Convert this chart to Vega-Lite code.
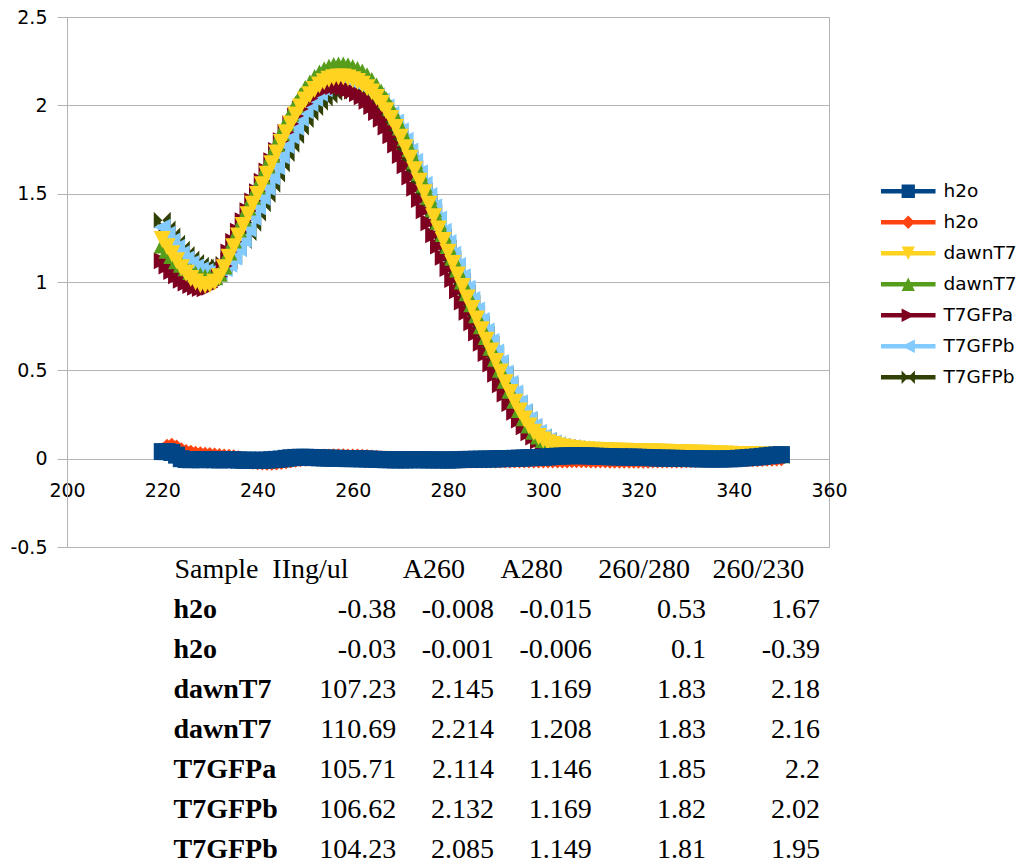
{
"$schema": "https://vega.github.io/schema/vega-lite/v6.json",
"background": "white",
"padding": {"left": 9, "top": 7, "right": 5, "bottom": 0},
"bounds": "flush",
"spacing": 3,
"config": {"view": {"stroke": null}, "font": "DejaVu Sans"},
"datasets": {
"tbl": [
{"r":0,"c":"A","k":"h","t":"Sample"},{"r":0,"c":"B","k":"h","t":"IIng/ul"},{"r":0,"c":"C","k":"h","t":"A260"},{"r":0,"c":"D","k":"h","t":"A280"},{"r":0,"c":"E","k":"h","t":"260/280"},{"r":0,"c":"F","k":"h","t":"260/230"},
{"r":1,"c":"A","k":"l","t":"h2o"},{"r":1,"c":"B","k":"n","t":"-0.38"},{"r":1,"c":"C","k":"n","t":"-0.008"},{"r":1,"c":"D","k":"n","t":"-0.015"},{"r":1,"c":"E","k":"n","t":"0.53"},{"r":1,"c":"F","k":"n","t":"1.67"},
{"r":2,"c":"A","k":"l","t":"h2o"},{"r":2,"c":"B","k":"n","t":"-0.03"},{"r":2,"c":"C","k":"n","t":"-0.001"},{"r":2,"c":"D","k":"n","t":"-0.006"},{"r":2,"c":"E","k":"n","t":"0.1"},{"r":2,"c":"F","k":"n","t":"-0.39"},
{"r":3,"c":"A","k":"l","t":"dawnT7"},{"r":3,"c":"B","k":"n","t":"107.23"},{"r":3,"c":"C","k":"n","t":"2.145"},{"r":3,"c":"D","k":"n","t":"1.169"},{"r":3,"c":"E","k":"n","t":"1.83"},{"r":3,"c":"F","k":"n","t":"2.18"},
{"r":4,"c":"A","k":"l","t":"dawnT7"},{"r":4,"c":"B","k":"n","t":"110.69"},{"r":4,"c":"C","k":"n","t":"2.214"},{"r":4,"c":"D","k":"n","t":"1.208"},{"r":4,"c":"E","k":"n","t":"1.83"},{"r":4,"c":"F","k":"n","t":"2.16"},
{"r":5,"c":"A","k":"l","t":"T7GFPa"},{"r":5,"c":"B","k":"n","t":"105.71"},{"r":5,"c":"C","k":"n","t":"2.114"},{"r":5,"c":"D","k":"n","t":"1.146"},{"r":5,"c":"E","k":"n","t":"1.85"},{"r":5,"c":"F","k":"n","t":"2.2"},
{"r":6,"c":"A","k":"l","t":"T7GFPb"},{"r":6,"c":"B","k":"n","t":"106.62"},{"r":6,"c":"C","k":"n","t":"2.132"},{"r":6,"c":"D","k":"n","t":"1.169"},{"r":6,"c":"E","k":"n","t":"1.82"},{"r":6,"c":"F","k":"n","t":"2.02"},
{"r":7,"c":"A","k":"l","t":"T7GFPb"},{"r":7,"c":"B","k":"n","t":"104.23"},{"r":7,"c":"C","k":"n","t":"2.085"},{"r":7,"c":"D","k":"n","t":"1.149"},{"r":7,"c":"E","k":"n","t":"1.81"},{"r":7,"c":"F","k":"n","t":"1.95"}
],
"spec": [
{"s":"a","x":220,"y":0.04},{"s":"a","x":221,"y":0.04},{"s":"a","x":222,"y":0.035},{"s":"a","x":223,"y":0.02},{"s":"a","x":224,"y":0},{"s":"a","x":225,"y":-0.005},{"s":"a","x":226,"y":-0.006},{"s":"a","x":227,"y":-0.005},{"s":"a","x":228,"y":-0.006},{"s":"a","x":229,"y":-0.005},
{"s":"a","x":230,"y":-0.005},{"s":"a","x":231,"y":-0.006},{"s":"a","x":232,"y":-0.007},{"s":"a","x":233,"y":-0.006},{"s":"a","x":234,"y":-0.005},{"s":"a","x":235,"y":-0.006},{"s":"a","x":236,"y":-0.008},{"s":"a","x":237,"y":-0.009},{"s":"a","x":238,"y":-0.008},{"s":"a","x":239,"y":-0.009},
{"s":"a","x":240,"y":-0.01},{"s":"a","x":241,"y":-0.009},{"s":"a","x":242,"y":-0.008},{"s":"a","x":243,"y":-0.006},{"s":"a","x":244,"y":-0.004},{"s":"a","x":245,"y":-0.002},{"s":"a","x":246,"y":0.002},{"s":"a","x":247,"y":0.005},{"s":"a","x":248,"y":0.007},{"s":"a","x":249,"y":0.008},
{"s":"a","x":250,"y":0.008},{"s":"a","x":251,"y":0.007},{"s":"a","x":252,"y":0.006},{"s":"a","x":253,"y":0.005},{"s":"a","x":254,"y":0.004},{"s":"a","x":255,"y":0.003},{"s":"a","x":256,"y":0.002},{"s":"a","x":257,"y":0.002},{"s":"a","x":258,"y":0.001},{"s":"a","x":259,"y":0},
{"s":"a","x":260,"y":0},{"s":"a","x":261,"y":0},{"s":"a","x":262,"y":-0.001},{"s":"a","x":263,"y":-0.002},{"s":"a","x":264,"y":-0.003},{"s":"a","x":265,"y":-0.004},{"s":"a","x":266,"y":-0.005},{"s":"a","x":267,"y":-0.006},{"s":"a","x":268,"y":-0.006},{"s":"a","x":269,"y":-0.007},
{"s":"a","x":270,"y":-0.007},{"s":"a","x":271,"y":-0.007},{"s":"a","x":272,"y":-0.006},{"s":"a","x":273,"y":-0.006},{"s":"a","x":274,"y":-0.006},{"s":"a","x":275,"y":-0.006},{"s":"a","x":276,"y":-0.007},{"s":"a","x":277,"y":-0.007},{"s":"a","x":278,"y":-0.007},{"s":"a","x":279,"y":-0.007},
{"s":"a","x":280,"y":-0.008},{"s":"a","x":281,"y":-0.007},{"s":"a","x":282,"y":-0.006},{"s":"a","x":283,"y":-0.005},{"s":"a","x":284,"y":-0.004},{"s":"a","x":285,"y":-0.004},{"s":"a","x":286,"y":-0.003},{"s":"a","x":287,"y":-0.003},{"s":"a","x":288,"y":-0.002},{"s":"a","x":289,"y":-0.002},
{"s":"a","x":290,"y":-0.001},{"s":"a","x":291,"y":0},{"s":"a","x":292,"y":0},{"s":"a","x":293,"y":0.001},{"s":"a","x":294,"y":0.002},{"s":"a","x":295,"y":0.003},{"s":"a","x":296,"y":0.004},{"s":"a","x":297,"y":0.005},{"s":"a","x":298,"y":0.006},{"s":"a","x":299,"y":0.007},
{"s":"a","x":300,"y":0.008},{"s":"a","x":301,"y":0.01},{"s":"a","x":302,"y":0.012},{"s":"a","x":303,"y":0.014},{"s":"a","x":304,"y":0.015},{"s":"a","x":305,"y":0.016},{"s":"a","x":306,"y":0.017},{"s":"a","x":307,"y":0.017},{"s":"a","x":308,"y":0.017},{"s":"a","x":309,"y":0.016},
{"s":"a","x":310,"y":0.015},{"s":"a","x":311,"y":0.014},{"s":"a","x":312,"y":0.013},{"s":"a","x":313,"y":0.012},{"s":"a","x":314,"y":0.011},{"s":"a","x":315,"y":0.01},{"s":"a","x":316,"y":0.01},{"s":"a","x":317,"y":0.009},{"s":"a","x":318,"y":0.009},{"s":"a","x":319,"y":0.009},
{"s":"a","x":320,"y":0.008},{"s":"a","x":321,"y":0.007},{"s":"a","x":322,"y":0.006},{"s":"a","x":323,"y":0.005},{"s":"a","x":324,"y":0.004},{"s":"a","x":325,"y":0.003},{"s":"a","x":326,"y":0.003},{"s":"a","x":327,"y":0.002},{"s":"a","x":328,"y":0.002},{"s":"a","x":329,"y":0.001},
{"s":"a","x":330,"y":0.001},{"s":"a","x":331,"y":0},{"s":"a","x":332,"y":0},{"s":"a","x":333,"y":-0.001},{"s":"a","x":334,"y":-0.001},{"s":"a","x":335,"y":-0.002},{"s":"a","x":336,"y":-0.002},{"s":"a","x":337,"y":-0.002},{"s":"a","x":338,"y":-0.001},{"s":"a","x":339,"y":-0.001},
{"s":"a","x":340,"y":0},{"s":"a","x":341,"y":0.002},{"s":"a","x":342,"y":0.004},{"s":"a","x":343,"y":0.006},{"s":"a","x":344,"y":0.008},{"s":"a","x":345,"y":0.01},{"s":"a","x":346,"y":0.013},{"s":"a","x":347,"y":0.016},{"s":"a","x":348,"y":0.019},{"s":"a","x":349,"y":0.021},{"s":"a","x":350,"y":0.023},
{"s":"b","x":220,"y":0.045},{"s":"b","x":221,"y":0.065},{"s":"b","x":222,"y":0.07},{"s":"b","x":223,"y":0.06},{"s":"b","x":224,"y":0.045},{"s":"b","x":225,"y":0.035},{"s":"b","x":226,"y":0.03},{"s":"b","x":227,"y":0.025},{"s":"b","x":228,"y":0.022},{"s":"b","x":229,"y":0.02},
{"s":"b","x":230,"y":0.018},{"s":"b","x":231,"y":0.015},{"s":"b","x":232,"y":0.012},{"s":"b","x":233,"y":0.01},{"s":"b","x":234,"y":0.008},{"s":"b","x":235,"y":0.005},{"s":"b","x":236,"y":0},{"s":"b","x":237,"y":-0.005},{"s":"b","x":238,"y":-0.01},{"s":"b","x":239,"y":-0.014},
{"s":"b","x":240,"y":-0.017},{"s":"b","x":241,"y":-0.019},{"s":"b","x":242,"y":-0.02},{"s":"b","x":243,"y":-0.02},{"s":"b","x":244,"y":-0.019},{"s":"b","x":245,"y":-0.016},{"s":"b","x":246,"y":-0.012},{"s":"b","x":247,"y":-0.008},{"s":"b","x":248,"y":-0.004},{"s":"b","x":249,"y":0},
{"s":"b","x":250,"y":0.003},{"s":"b","x":251,"y":0.005},{"s":"b","x":252,"y":0.007},{"s":"b","x":253,"y":0.008},{"s":"b","x":254,"y":0.009},{"s":"b","x":255,"y":0.01},{"s":"b","x":256,"y":0.011},{"s":"b","x":257,"y":0.011},{"s":"b","x":258,"y":0.011},{"s":"b","x":259,"y":0.01},
{"s":"b","x":260,"y":0.01},{"s":"b","x":261,"y":0.009},{"s":"b","x":262,"y":0.008},{"s":"b","x":263,"y":0.006},{"s":"b","x":264,"y":0.004},{"s":"b","x":265,"y":0.002},{"s":"b","x":266,"y":0},{"s":"b","x":267,"y":-0.002},{"s":"b","x":268,"y":-0.003},{"s":"b","x":269,"y":-0.004},
{"s":"b","x":270,"y":-0.004},{"s":"b","x":271,"y":-0.005},{"s":"b","x":272,"y":-0.005},{"s":"b","x":273,"y":-0.005},{"s":"b","x":274,"y":-0.006},{"s":"b","x":275,"y":-0.006},{"s":"b","x":276,"y":-0.006},{"s":"b","x":277,"y":-0.006},{"s":"b","x":278,"y":-0.006},{"s":"b","x":279,"y":-0.006},
{"s":"b","x":280,"y":-0.006},{"s":"b","x":281,"y":-0.006},{"s":"b","x":282,"y":-0.006},{"s":"b","x":283,"y":-0.007},{"s":"b","x":284,"y":-0.007},{"s":"b","x":285,"y":-0.007},{"s":"b","x":286,"y":-0.007},{"s":"b","x":287,"y":-0.008},{"s":"b","x":288,"y":-0.008},{"s":"b","x":289,"y":-0.008},
{"s":"b","x":290,"y":-0.008},{"s":"b","x":291,"y":-0.008},{"s":"b","x":292,"y":-0.008},{"s":"b","x":293,"y":-0.008},{"s":"b","x":294,"y":-0.008},{"s":"b","x":295,"y":-0.008},{"s":"b","x":296,"y":-0.008},{"s":"b","x":297,"y":-0.008},{"s":"b","x":298,"y":-0.008},{"s":"b","x":299,"y":-0.008},
{"s":"b","x":300,"y":-0.008},{"s":"b","x":301,"y":-0.008},{"s":"b","x":302,"y":-0.008},{"s":"b","x":303,"y":-0.008},{"s":"b","x":304,"y":-0.007},{"s":"b","x":305,"y":-0.007},{"s":"b","x":306,"y":-0.006},{"s":"b","x":307,"y":-0.006},{"s":"b","x":308,"y":-0.006},{"s":"b","x":309,"y":-0.006},
{"s":"b","x":310,"y":-0.007},{"s":"b","x":311,"y":-0.007},{"s":"b","x":312,"y":-0.008},{"s":"b","x":313,"y":-0.008},{"s":"b","x":314,"y":-0.009},{"s":"b","x":315,"y":-0.009},{"s":"b","x":316,"y":-0.009},{"s":"b","x":317,"y":-0.009},{"s":"b","x":318,"y":-0.009},{"s":"b","x":319,"y":-0.009},
{"s":"b","x":320,"y":-0.009},{"s":"b","x":321,"y":-0.009},{"s":"b","x":322,"y":-0.009},{"s":"b","x":323,"y":-0.008},{"s":"b","x":324,"y":-0.008},{"s":"b","x":325,"y":-0.008},{"s":"b","x":326,"y":-0.008},{"s":"b","x":327,"y":-0.007},{"s":"b","x":328,"y":-0.007},{"s":"b","x":329,"y":-0.007},
{"s":"b","x":330,"y":-0.006},{"s":"b","x":331,"y":-0.006},{"s":"b","x":332,"y":-0.005},{"s":"b","x":333,"y":-0.005},{"s":"b","x":334,"y":-0.004},{"s":"b","x":335,"y":-0.004},{"s":"b","x":336,"y":-0.004},{"s":"b","x":337,"y":-0.003},{"s":"b","x":338,"y":-0.003},{"s":"b","x":339,"y":-0.003},
{"s":"b","x":340,"y":-0.002},{"s":"b","x":341,"y":-0.002},{"s":"b","x":342,"y":-0.001},{"s":"b","x":343,"y":-0.001},{"s":"b","x":344,"y":0},{"s":"b","x":345,"y":0},{"s":"b","x":346,"y":0.001},{"s":"b","x":347,"y":0.002},{"s":"b","x":348,"y":0.003},{"s":"b","x":349,"y":0.004},{"s":"b","x":350,"y":0.005},
{"s":"c","x":220,"y":1.24},{"s":"c","x":221,"y":1.2},{"s":"c","x":222,"y":1.16},{"s":"c","x":223,"y":1.12},{"s":"c","x":224,"y":1.08},{"s":"c","x":225,"y":1.05},{"s":"c","x":226,"y":1.02},{"s":"c","x":227,"y":1.0},{"s":"c","x":228,"y":0.985},{"s":"c","x":229,"y":0.98},
{"s":"c","x":230,"y":0.984},{"s":"c","x":231,"y":0.998},{"s":"c","x":232,"y":1.03},{"s":"c","x":233,"y":1.08},{"s":"c","x":234,"y":1.14},{"s":"c","x":235,"y":1.2},{"s":"c","x":236,"y":1.26},{"s":"c","x":237,"y":1.32},{"s":"c","x":238,"y":1.38},{"s":"c","x":239,"y":1.44},
{"s":"c","x":240,"y":1.495},{"s":"c","x":241,"y":1.55},{"s":"c","x":242,"y":1.61},{"s":"c","x":243,"y":1.67},{"s":"c","x":244,"y":1.73},{"s":"c","x":245,"y":1.79},{"s":"c","x":246,"y":1.845},{"s":"c","x":247,"y":1.895},{"s":"c","x":248,"y":1.945},{"s":"c","x":249,"y":1.99},
{"s":"c","x":250,"y":2.03},{"s":"c","x":251,"y":2.06},{"s":"c","x":252,"y":2.09},{"s":"c","x":253,"y":2.115},{"s":"c","x":254,"y":2.133},{"s":"c","x":255,"y":2.147},{"s":"c","x":256,"y":2.156},{"s":"c","x":257,"y":2.16},{"s":"c","x":258,"y":2.16},{"s":"c","x":259,"y":2.155},
{"s":"c","x":260,"y":2.145},{"s":"c","x":261,"y":2.135},{"s":"c","x":262,"y":2.12},{"s":"c","x":263,"y":2.1},{"s":"c","x":264,"y":2.075},{"s":"c","x":265,"y":2.045},{"s":"c","x":266,"y":2.01},{"s":"c","x":267,"y":1.97},{"s":"c","x":268,"y":1.925},{"s":"c","x":269,"y":1.875},
{"s":"c","x":270,"y":1.82},{"s":"c","x":271,"y":1.76},{"s":"c","x":272,"y":1.7},{"s":"c","x":273,"y":1.635},{"s":"c","x":274,"y":1.57},{"s":"c","x":275,"y":1.505},{"s":"c","x":276,"y":1.44},{"s":"c","x":277,"y":1.37},{"s":"c","x":278,"y":1.3},{"s":"c","x":279,"y":1.235},
{"s":"c","x":280,"y":1.169},{"s":"c","x":281,"y":1.105},{"s":"c","x":282,"y":1.04},{"s":"c","x":283,"y":0.975},{"s":"c","x":284,"y":0.91},{"s":"c","x":285,"y":0.85},{"s":"c","x":286,"y":0.79},{"s":"c","x":287,"y":0.73},{"s":"c","x":288,"y":0.67},{"s":"c","x":289,"y":0.61},
{"s":"c","x":290,"y":0.55},{"s":"c","x":291,"y":0.49},{"s":"c","x":292,"y":0.43},{"s":"c","x":293,"y":0.375},{"s":"c","x":294,"y":0.32},{"s":"c","x":295,"y":0.27},{"s":"c","x":296,"y":0.225},{"s":"c","x":297,"y":0.185},{"s":"c","x":298,"y":0.15},{"s":"c","x":299,"y":0.125},
{"s":"c","x":300,"y":0.105},{"s":"c","x":301,"y":0.09},{"s":"c","x":302,"y":0.08},{"s":"c","x":303,"y":0.072},{"s":"c","x":304,"y":0.066},{"s":"c","x":305,"y":0.062},{"s":"c","x":306,"y":0.058},{"s":"c","x":307,"y":0.055},{"s":"c","x":308,"y":0.052},{"s":"c","x":309,"y":0.05},
{"s":"c","x":310,"y":0.048},{"s":"c","x":311,"y":0.047},{"s":"c","x":312,"y":0.046},{"s":"c","x":313,"y":0.045},{"s":"c","x":314,"y":0.044},{"s":"c","x":315,"y":0.043},{"s":"c","x":316,"y":0.042},{"s":"c","x":317,"y":0.042},{"s":"c","x":318,"y":0.041},{"s":"c","x":319,"y":0.041},
{"s":"c","x":320,"y":0.04},{"s":"c","x":321,"y":0.04},{"s":"c","x":322,"y":0.039},{"s":"c","x":323,"y":0.039},{"s":"c","x":324,"y":0.038},{"s":"c","x":325,"y":0.037},{"s":"c","x":326,"y":0.036},{"s":"c","x":327,"y":0.035},{"s":"c","x":328,"y":0.035},{"s":"c","x":329,"y":0.034},
{"s":"c","x":330,"y":0.033},{"s":"c","x":331,"y":0.032},{"s":"c","x":332,"y":0.031},{"s":"c","x":333,"y":0.03},{"s":"c","x":334,"y":0.03},{"s":"c","x":335,"y":0.029},{"s":"c","x":336,"y":0.028},{"s":"c","x":337,"y":0.027},{"s":"c","x":338,"y":0.026},{"s":"c","x":339,"y":0.025},
{"s":"c","x":340,"y":0.024},{"s":"c","x":341,"y":0.023},{"s":"c","x":342,"y":0.023},{"s":"c","x":343,"y":0.022},{"s":"c","x":344,"y":0.022},{"s":"c","x":345,"y":0.021},{"s":"c","x":346,"y":0.021},{"s":"c","x":347,"y":0.02},{"s":"c","x":348,"y":0.02},{"s":"c","x":349,"y":0.02},{"s":"c","x":350,"y":0.02},
{"s":"d","x":220,"y":1.21},{"s":"d","x":221,"y":1.18},{"s":"d","x":222,"y":1.15},{"s":"d","x":223,"y":1.12},{"s":"d","x":224,"y":1.1},{"s":"d","x":225,"y":1.08},{"s":"d","x":226,"y":1.06},{"s":"d","x":227,"y":1.045},{"s":"d","x":228,"y":1.035},{"s":"d","x":229,"y":1.028},
{"s":"d","x":230,"y":1.025},{"s":"d","x":231,"y":1.03},{"s":"d","x":232,"y":1.05},{"s":"d","x":233,"y":1.09},{"s":"d","x":234,"y":1.17},{"s":"d","x":235,"y":1.238},{"s":"d","x":236,"y":1.3},{"s":"d","x":237,"y":1.362},{"s":"d","x":238,"y":1.424},{"s":"d","x":239,"y":1.486},
{"s":"d","x":240,"y":1.543},{"s":"d","x":241,"y":1.6},{"s":"d","x":242,"y":1.662},{"s":"d","x":243,"y":1.723},{"s":"d","x":244,"y":1.785},{"s":"d","x":245,"y":1.847},{"s":"d","x":246,"y":1.904},{"s":"d","x":247,"y":1.956},{"s":"d","x":248,"y":2.007},{"s":"d","x":249,"y":2.054},
{"s":"d","x":250,"y":2.095},{"s":"d","x":251,"y":2.126},{"s":"d","x":252,"y":2.157},{"s":"d","x":253,"y":2.183},{"s":"d","x":254,"y":2.201},{"s":"d","x":255,"y":2.216},{"s":"d","x":256,"y":2.225},{"s":"d","x":257,"y":2.229},{"s":"d","x":258,"y":2.229},{"s":"d","x":259,"y":2.224},
{"s":"d","x":260,"y":2.214},{"s":"d","x":261,"y":2.203},{"s":"d","x":262,"y":2.188},{"s":"d","x":263,"y":2.167},{"s":"d","x":264,"y":2.141},{"s":"d","x":265,"y":2.11},{"s":"d","x":266,"y":2.074},{"s":"d","x":267,"y":2.033},{"s":"d","x":268,"y":1.987},{"s":"d","x":269,"y":1.935},
{"s":"d","x":270,"y":1.878},{"s":"d","x":271,"y":1.816},{"s":"d","x":272,"y":1.754},{"s":"d","x":273,"y":1.687},{"s":"d","x":274,"y":1.62},{"s":"d","x":275,"y":1.553},{"s":"d","x":276,"y":1.486},{"s":"d","x":277,"y":1.414},{"s":"d","x":278,"y":1.342},{"s":"d","x":279,"y":1.275},
{"s":"d","x":280,"y":1.206},{"s":"d","x":281,"y":1.14},{"s":"d","x":282,"y":1.073},{"s":"d","x":283,"y":1.006},{"s":"d","x":284,"y":0.939},{"s":"d","x":285,"y":0.877},{"s":"d","x":286,"y":0.815},{"s":"d","x":287,"y":0.753},{"s":"d","x":288,"y":0.691},{"s":"d","x":289,"y":0.63},
{"s":"d","x":290,"y":0.568},{"s":"d","x":291,"y":0.506},{"s":"d","x":292,"y":0.444},{"s":"d","x":293,"y":0.387},{"s":"d","x":294,"y":0.33},{"s":"d","x":295,"y":0.279},{"s":"d","x":296,"y":0.232},{"s":"d","x":297,"y":0.191},{"s":"d","x":298,"y":0.155},{"s":"d","x":299,"y":0.129},
{"s":"d","x":300,"y":0.108},{"s":"d","x":301,"y":0.093},{"s":"d","x":302,"y":0.083},{"s":"d","x":303,"y":0.074},{"s":"d","x":304,"y":0.068},{"s":"d","x":305,"y":0.064},{"s":"d","x":306,"y":0.06},{"s":"d","x":307,"y":0.057},{"s":"d","x":308,"y":0.054},{"s":"d","x":309,"y":0.052},
{"s":"d","x":310,"y":0.05},{"s":"d","x":311,"y":0.049},{"s":"d","x":312,"y":0.048},{"s":"d","x":313,"y":0.047},{"s":"d","x":314,"y":0.046},{"s":"d","x":315,"y":0.045},{"s":"d","x":316,"y":0.044},{"s":"d","x":317,"y":0.044},{"s":"d","x":318,"y":0.043},{"s":"d","x":319,"y":0.043},
{"s":"d","x":320,"y":0.042},{"s":"d","x":321,"y":0.042},{"s":"d","x":322,"y":0.041},{"s":"d","x":323,"y":0.041},{"s":"d","x":324,"y":0.04},{"s":"d","x":325,"y":0.039},{"s":"d","x":326,"y":0.038},{"s":"d","x":327,"y":0.037},{"s":"d","x":328,"y":0.037},{"s":"d","x":329,"y":0.036},
{"s":"d","x":330,"y":0.035},{"s":"d","x":331,"y":0.034},{"s":"d","x":332,"y":0.033},{"s":"d","x":333,"y":0.032},{"s":"d","x":334,"y":0.032},{"s":"d","x":335,"y":0.031},{"s":"d","x":336,"y":0.03},{"s":"d","x":337,"y":0.029},{"s":"d","x":338,"y":0.028},{"s":"d","x":339,"y":0.027},
{"s":"d","x":340,"y":0.026},{"s":"d","x":341,"y":0.025},{"s":"d","x":342,"y":0.025},{"s":"d","x":343,"y":0.024},{"s":"d","x":344,"y":0.024},{"s":"d","x":345,"y":0.023},{"s":"d","x":346,"y":0.023},{"s":"d","x":347,"y":0.022},{"s":"d","x":348,"y":0.022},{"s":"d","x":349,"y":0.022},{"s":"d","x":350,"y":0.022},
{"s":"e","x":220,"y":1.12},{"s":"e","x":221,"y":1.09},{"s":"e","x":222,"y":1.06},{"s":"e","x":223,"y":1.035},{"s":"e","x":224,"y":1.01},{"s":"e","x":225,"y":0.995},{"s":"e","x":226,"y":0.98},{"s":"e","x":227,"y":0.97},{"s":"e","x":228,"y":0.963},{"s":"e","x":229,"y":0.962},
{"s":"e","x":230,"y":0.97},{"s":"e","x":231,"y":0.99},{"s":"e","x":232,"y":1.03},{"s":"e","x":233,"y":1.09},{"s":"e","x":234,"y":1.17},{"s":"e","x":235,"y":1.229},{"s":"e","x":236,"y":1.287},{"s":"e","x":237,"y":1.346},{"s":"e","x":238,"y":1.404},{"s":"e","x":239,"y":1.458},
{"s":"e","x":240,"y":1.511},{"s":"e","x":241,"y":1.57},{"s":"e","x":242,"y":1.628},{"s":"e","x":243,"y":1.687},{"s":"e","x":244,"y":1.745},{"s":"e","x":245,"y":1.799},{"s":"e","x":246,"y":1.848},{"s":"e","x":247,"y":1.896},{"s":"e","x":248,"y":1.94},{"s":"e","x":249,"y":1.979},
{"s":"e","x":250,"y":2.009},{"s":"e","x":251,"y":2.038},{"s":"e","x":252,"y":2.062},{"s":"e","x":253,"y":2.08},{"s":"e","x":254,"y":2.093},{"s":"e","x":255,"y":2.102},{"s":"e","x":256,"y":2.106},{"s":"e","x":257,"y":2.106},{"s":"e","x":258,"y":2.101},{"s":"e","x":259,"y":2.091},
{"s":"e","x":260,"y":2.082},{"s":"e","x":261,"y":2.067},{"s":"e","x":262,"y":2.048},{"s":"e","x":263,"y":2.023},{"s":"e","x":264,"y":1.994},{"s":"e","x":265,"y":1.96},{"s":"e","x":266,"y":1.921},{"s":"e","x":267,"y":1.877},{"s":"e","x":268,"y":1.828},{"s":"e","x":269,"y":1.775},
{"s":"e","x":270,"y":1.716},{"s":"e","x":271,"y":1.658},{"s":"e","x":272,"y":1.594},{"s":"e","x":273,"y":1.531},{"s":"e","x":274,"y":1.467},{"s":"e","x":275,"y":1.404},{"s":"e","x":276,"y":1.336},{"s":"e","x":277,"y":1.268},{"s":"e","x":278,"y":1.204},{"s":"e","x":279,"y":1.14},
{"s":"e","x":280,"y":1.077},{"s":"e","x":281,"y":1.014},{"s":"e","x":282,"y":0.951},{"s":"e","x":283,"y":0.887},{"s":"e","x":284,"y":0.829},{"s":"e","x":285,"y":0.77},{"s":"e","x":286,"y":0.712},{"s":"e","x":287,"y":0.653},{"s":"e","x":288,"y":0.595},{"s":"e","x":289,"y":0.536},
{"s":"e","x":290,"y":0.478},{"s":"e","x":291,"y":0.419},{"s":"e","x":292,"y":0.366},{"s":"e","x":293,"y":0.312},{"s":"e","x":294,"y":0.263},{"s":"e","x":295,"y":0.219},{"s":"e","x":296,"y":0.18},{"s":"e","x":297,"y":0.146},{"s":"e","x":298,"y":0.122},{"s":"e","x":299,"y":0.102},
{"s":"e","x":300,"y":0.088},{"s":"e","x":301,"y":0.078},{"s":"e","x":302,"y":0.07},{"s":"e","x":303,"y":0.064},{"s":"e","x":304,"y":0.06},{"s":"e","x":305,"y":0.057},{"s":"e","x":306,"y":0.054},{"s":"e","x":307,"y":0.051},{"s":"e","x":308,"y":0.049},{"s":"e","x":309,"y":0.047},
{"s":"e","x":310,"y":0.046},{"s":"e","x":311,"y":0.045},{"s":"e","x":312,"y":0.044},{"s":"e","x":313,"y":0.043},{"s":"e","x":314,"y":0.042},{"s":"e","x":315,"y":0.041},{"s":"e","x":316,"y":0.041},{"s":"e","x":317,"y":0.04},{"s":"e","x":318,"y":0.04},{"s":"e","x":319,"y":0.039},
{"s":"e","x":320,"y":0.039},{"s":"e","x":321,"y":0.038},{"s":"e","x":322,"y":0.038},{"s":"e","x":323,"y":0.037},{"s":"e","x":324,"y":0.036},{"s":"e","x":325,"y":0.035},{"s":"e","x":326,"y":0.034},{"s":"e","x":327,"y":0.034},{"s":"e","x":328,"y":0.033},{"s":"e","x":329,"y":0.032},
{"s":"e","x":330,"y":0.031},{"s":"e","x":331,"y":0.03},{"s":"e","x":332,"y":0.029},{"s":"e","x":333,"y":0.029},{"s":"e","x":334,"y":0.028},{"s":"e","x":335,"y":0.027},{"s":"e","x":336,"y":0.026},{"s":"e","x":337,"y":0.025},{"s":"e","x":338,"y":0.024},{"s":"e","x":339,"y":0.023},
{"s":"e","x":340,"y":0.022},{"s":"e","x":341,"y":0.022},{"s":"e","x":342,"y":0.021},{"s":"e","x":343,"y":0.021},{"s":"e","x":344,"y":0.02},{"s":"e","x":345,"y":0.02},{"s":"e","x":346,"y":0.019},{"s":"e","x":347,"y":0.019},{"s":"e","x":348,"y":0.019},{"s":"e","x":349,"y":0.019},{"s":"e","x":350,"y":0.019},
{"s":"f","x":220,"y":1.31},{"s":"f","x":221,"y":1.27},{"s":"f","x":222,"y":1.23},{"s":"f","x":223,"y":1.195},{"s":"f","x":224,"y":1.16},{"s":"f","x":225,"y":1.13},{"s":"f","x":226,"y":1.105},{"s":"f","x":227,"y":1.085},{"s":"f","x":228,"y":1.07},{"s":"f","x":229,"y":1.06},
{"s":"f","x":230,"y":1.055},{"s":"f","x":231,"y":1.055},{"s":"f","x":232,"y":1.06},{"s":"f","x":233,"y":1.075},{"s":"f","x":234,"y":1.1},{"s":"f","x":235,"y":1.14},{"s":"f","x":236,"y":1.19},{"s":"f","x":237,"y":1.24},{"s":"f","x":238,"y":1.3},{"s":"f","x":239,"y":1.366},
{"s":"f","x":240,"y":1.426},{"s":"f","x":241,"y":1.48},{"s":"f","x":242,"y":1.535},{"s":"f","x":243,"y":1.594},{"s":"f","x":244,"y":1.653},{"s":"f","x":245,"y":1.713},{"s":"f","x":246,"y":1.772},{"s":"f","x":247,"y":1.827},{"s":"f","x":248,"y":1.876},{"s":"f","x":249,"y":1.926},
{"s":"f","x":250,"y":1.97},{"s":"f","x":251,"y":2.01},{"s":"f","x":252,"y":2.039},{"s":"f","x":253,"y":2.069},{"s":"f","x":254,"y":2.094},{"s":"f","x":255,"y":2.112},{"s":"f","x":256,"y":2.126},{"s":"f","x":257,"y":2.134},{"s":"f","x":258,"y":2.138},{"s":"f","x":259,"y":2.138},
{"s":"f","x":260,"y":2.133},{"s":"f","x":261,"y":2.124},{"s":"f","x":262,"y":2.114},{"s":"f","x":263,"y":2.099},{"s":"f","x":264,"y":2.079},{"s":"f","x":265,"y":2.054},{"s":"f","x":266,"y":2.025},{"s":"f","x":267,"y":1.99},{"s":"f","x":268,"y":1.95},{"s":"f","x":269,"y":1.906},
{"s":"f","x":270,"y":1.856},{"s":"f","x":271,"y":1.802},{"s":"f","x":272,"y":1.742},{"s":"f","x":273,"y":1.683},{"s":"f","x":274,"y":1.619},{"s":"f","x":275,"y":1.554},{"s":"f","x":276,"y":1.49},{"s":"f","x":277,"y":1.426},{"s":"f","x":278,"y":1.356},{"s":"f","x":279,"y":1.287},
{"s":"f","x":280,"y":1.223},{"s":"f","x":281,"y":1.157},{"s":"f","x":282,"y":1.094},{"s":"f","x":283,"y":1.03},{"s":"f","x":284,"y":0.965},{"s":"f","x":285,"y":0.901},{"s":"f","x":286,"y":0.842},{"s":"f","x":287,"y":0.782},{"s":"f","x":288,"y":0.723},{"s":"f","x":289,"y":0.663},
{"s":"f","x":290,"y":0.604},{"s":"f","x":291,"y":0.545},{"s":"f","x":292,"y":0.485},{"s":"f","x":293,"y":0.426},{"s":"f","x":294,"y":0.371},{"s":"f","x":295,"y":0.317},{"s":"f","x":296,"y":0.267},{"s":"f","x":297,"y":0.223},{"s":"f","x":298,"y":0.183},{"s":"f","x":299,"y":0.149},
{"s":"f","x":300,"y":0.124},{"s":"f","x":301,"y":0.104},{"s":"f","x":302,"y":0.089},{"s":"f","x":303,"y":0.079},{"s":"f","x":304,"y":0.071},{"s":"f","x":305,"y":0.065},{"s":"f","x":306,"y":0.062},{"s":"f","x":307,"y":0.058},{"s":"f","x":308,"y":0.055},{"s":"f","x":309,"y":0.052},
{"s":"f","x":310,"y":0.05},{"s":"f","x":311,"y":0.048},{"s":"f","x":312,"y":0.047},{"s":"f","x":313,"y":0.046},{"s":"f","x":314,"y":0.045},{"s":"f","x":315,"y":0.044},{"s":"f","x":316,"y":0.043},{"s":"f","x":317,"y":0.042},{"s":"f","x":318,"y":0.042},{"s":"f","x":319,"y":0.041},
{"s":"f","x":320,"y":0.041},{"s":"f","x":321,"y":0.04},{"s":"f","x":322,"y":0.04},{"s":"f","x":323,"y":0.039},{"s":"f","x":324,"y":0.039},{"s":"f","x":325,"y":0.038},{"s":"f","x":326,"y":0.037},{"s":"f","x":327,"y":0.036},{"s":"f","x":328,"y":0.035},{"s":"f","x":329,"y":0.035},
{"s":"f","x":330,"y":0.034},{"s":"f","x":331,"y":0.033},{"s":"f","x":332,"y":0.032},{"s":"f","x":333,"y":0.031},{"s":"f","x":334,"y":0.03},{"s":"f","x":335,"y":0.03},{"s":"f","x":336,"y":0.029},{"s":"f","x":337,"y":0.028},{"s":"f","x":338,"y":0.027},{"s":"f","x":339,"y":0.026},
{"s":"f","x":340,"y":0.025},{"s":"f","x":341,"y":0.024},{"s":"f","x":342,"y":0.023},{"s":"f","x":343,"y":0.023},{"s":"f","x":344,"y":0.022},{"s":"f","x":345,"y":0.022},{"s":"f","x":346,"y":0.021},{"s":"f","x":347,"y":0.021},{"s":"f","x":348,"y":0.02},{"s":"f","x":349,"y":0.02},{"s":"f","x":350,"y":0.02},
{"s":"g","x":220,"y":1.35},{"s":"g","x":221,"y":1.3},{"s":"g","x":222,"y":1.26},{"s":"g","x":223,"y":1.22},{"s":"g","x":224,"y":1.185},{"s":"g","x":225,"y":1.155},{"s":"g","x":226,"y":1.13},{"s":"g","x":227,"y":1.11},{"s":"g","x":228,"y":1.095},{"s":"g","x":229,"y":1.085},
{"s":"g","x":230,"y":1.08},{"s":"g","x":231,"y":1.08},{"s":"g","x":232,"y":1.085},{"s":"g","x":233,"y":1.1},{"s":"g","x":234,"y":1.12},{"s":"g","x":235,"y":1.15},{"s":"g","x":236,"y":1.19},{"s":"g","x":237,"y":1.235},{"s":"g","x":238,"y":1.28},{"s":"g","x":239,"y":1.332},
{"s":"g","x":240,"y":1.39},{"s":"g","x":241,"y":1.443},{"s":"g","x":242,"y":1.496},{"s":"g","x":243,"y":1.554},{"s":"g","x":244,"y":1.612},{"s":"g","x":245,"y":1.669},{"s":"g","x":246,"y":1.727},{"s":"g","x":247,"y":1.78},{"s":"g","x":248,"y":1.829},{"s":"g","x":249,"y":1.877},
{"s":"g","x":250,"y":1.92},{"s":"g","x":251,"y":1.959},{"s":"g","x":252,"y":1.988},{"s":"g","x":253,"y":2.017},{"s":"g","x":254,"y":2.041},{"s":"g","x":255,"y":2.058},{"s":"g","x":256,"y":2.072},{"s":"g","x":257,"y":2.081},{"s":"g","x":258,"y":2.084},{"s":"g","x":259,"y":2.084},
{"s":"g","x":260,"y":2.08},{"s":"g","x":261,"y":2.07},{"s":"g","x":262,"y":2.06},{"s":"g","x":263,"y":2.046},{"s":"g","x":264,"y":2.027},{"s":"g","x":265,"y":2.002},{"s":"g","x":266,"y":1.973},{"s":"g","x":267,"y":1.94},{"s":"g","x":268,"y":1.901},{"s":"g","x":269,"y":1.858},
{"s":"g","x":270,"y":1.809},{"s":"g","x":271,"y":1.756},{"s":"g","x":272,"y":1.698},{"s":"g","x":273,"y":1.641},{"s":"g","x":274,"y":1.578},{"s":"g","x":275,"y":1.515},{"s":"g","x":276,"y":1.452},{"s":"g","x":277,"y":1.39},{"s":"g","x":278,"y":1.322},{"s":"g","x":279,"y":1.255},
{"s":"g","x":280,"y":1.192},{"s":"g","x":281,"y":1.128},{"s":"g","x":282,"y":1.066},{"s":"g","x":283,"y":1.004},{"s":"g","x":284,"y":0.941},{"s":"g","x":285,"y":0.878},{"s":"g","x":286,"y":0.82},{"s":"g","x":287,"y":0.762},{"s":"g","x":288,"y":0.704},{"s":"g","x":289,"y":0.647},
{"s":"g","x":290,"y":0.589},{"s":"g","x":291,"y":0.531},{"s":"g","x":292,"y":0.473},{"s":"g","x":293,"y":0.415},{"s":"g","x":294,"y":0.362},{"s":"g","x":295,"y":0.309},{"s":"g","x":296,"y":0.261},{"s":"g","x":297,"y":0.217},{"s":"g","x":298,"y":0.179},{"s":"g","x":299,"y":0.145},
{"s":"g","x":300,"y":0.121},{"s":"g","x":301,"y":0.101},{"s":"g","x":302,"y":0.087},{"s":"g","x":303,"y":0.077},{"s":"g","x":304,"y":0.069},{"s":"g","x":305,"y":0.064},{"s":"g","x":306,"y":0.061},{"s":"g","x":307,"y":0.057},{"s":"g","x":308,"y":0.054},{"s":"g","x":309,"y":0.051},
{"s":"g","x":310,"y":0.049},{"s":"g","x":311,"y":0.047},{"s":"g","x":312,"y":0.046},{"s":"g","x":313,"y":0.045},{"s":"g","x":314,"y":0.044},{"s":"g","x":315,"y":0.043},{"s":"g","x":316,"y":0.042},{"s":"g","x":317,"y":0.042},{"s":"g","x":318,"y":0.041},{"s":"g","x":319,"y":0.041},
{"s":"g","x":320,"y":0.04},{"s":"g","x":321,"y":0.04},{"s":"g","x":322,"y":0.039},{"s":"g","x":323,"y":0.039},{"s":"g","x":324,"y":0.038},{"s":"g","x":325,"y":0.037},{"s":"g","x":326,"y":0.036},{"s":"g","x":327,"y":0.035},{"s":"g","x":328,"y":0.035},{"s":"g","x":329,"y":0.034},
{"s":"g","x":330,"y":0.033},{"s":"g","x":331,"y":0.032},{"s":"g","x":332,"y":0.031},{"s":"g","x":333,"y":0.03},{"s":"g","x":334,"y":0.03},{"s":"g","x":335,"y":0.029},{"s":"g","x":336,"y":0.028},{"s":"g","x":337,"y":0.027},{"s":"g","x":338,"y":0.026},{"s":"g","x":339,"y":0.025},
{"s":"g","x":340,"y":0.024},{"s":"g","x":341,"y":0.023},{"s":"g","x":342,"y":0.023},{"s":"g","x":343,"y":0.022},{"s":"g","x":344,"y":0.022},{"s":"g","x":345,"y":0.021},{"s":"g","x":346,"y":0.021},{"s":"g","x":347,"y":0.02},{"s":"g","x":348,"y":0.02},{"s":"g","x":349,"y":0.02},{"s":"g","x":350,"y":0.02}
]
},
"vconcat": [
{
"width": 762, "height": 530,
"view": {"stroke": "#b3b3b3", "strokeWidth": 1},
"data": {"name": "spec"},
"encoding": {
"x": {"field": "x", "type": "quantitative", "scale": {"domain": [200, 360], "nice": false, "zero": false},
 "axis": {"title": null, "values": [200,220,240,260,280,300,320,340,360], "grid": false, "domain": false, "ticks": false, "tickSize": 0, "labelPadding": -66, "labelFlush": false, "labelOverlap": false, "labelFont": "DejaVu Sans", "labelFontSize": 19, "labelColor": "#000000", "labelExpr": "'' + datum.value"}},
"y": {"field": "y", "type": "quantitative", "scale": {"domain": [-0.5, 2.5], "nice": false, "zero": false},
 "axis": {"title": null, "values": [-0.5,0,0.5,1,1.5,2,2.5], "grid": true, "gridColor": "#b3b3b3", "gridWidth": 1, "domain": true, "domainColor": "#b3b3b3", "ticks": true, "tickColor": "#b3b3b3", "tickSize": 10, "labelPadding": 10, "labelFlush": false, "labelOverlap": false, "labelFont": "DejaVu Sans", "labelFontSize": 19, "labelColor": "#000000", "labelExpr": "'' + datum.value"}},
"color": {"field": "s", "type": "nominal",
 "scale": {"domain": ["a","b","c","d","e","f","g"], "range": ["#004586","#ff420e","#ffd320","#579d1c","#7e0021","#83caff","#314004"]},
 "legend": {"title": null, "orient": "none", "legendX": 832, "legendY": 165, "padding": 0,
  "labelExpr": "['h2o','h2o','dawnT7','dawnT7','T7GFPa','T7GFPb','T7GFPb'][indexof(['a','b','c','d','e','f','g'], datum.value)]",
  "labelFont": "DejaVu Sans", "labelFontSize": 18.5, "labelColor": "#000000",
  "symbolSize": 177, "labelOffset": 26, "rowPadding": 12, "symbolStrokeWidth": 0, "symbolOpacity": 1,
  "encode": {"symbols": {"update": {"shape": {"signal": "['M-4.1,-0.32L4.1,-0.32L4.1,0.32L-4.1,0.32ZM-1,-1L1,-1L1,1L-1,1Z','M-4.1,-0.32L4.1,-0.32L4.1,0.32L-4.1,0.32ZM0,-1L1,0L0,1L-1,0Z','M-4.1,-0.32L4.1,-0.32L4.1,0.32L-4.1,0.32ZM-1,-1L1,-1L0,1Z','M-4.1,-0.32L4.1,-0.32L4.1,0.32L-4.1,0.32ZM0,-1L1,1L-1,1Z','M-4.1,-0.32L4.1,-0.32L4.1,0.32L-4.1,0.32ZM-1,-1L1,0L-1,1Z','M-4.1,-0.32L4.1,-0.32L4.1,0.32L-4.1,0.32ZM1,-1L1,1L-1,0Z','M-4.1,-0.32L4.1,-0.32L4.1,0.32L-4.1,0.32ZM-1,-1L0,0L-1,1ZM1,-1L1,1L0,0Z'][indexof(['a','b','c','d','e','f','g'], datum.value)]"}}}}
 }}
},
"layer": [
{"transform": [{"filter": "datum.s == 'g'"}], "mark": {"type": "point", "filled": true, "size": 289, "opacity": 1, "strokeWidth": 0, "shape": "M-1,-1L0,0L-1,1ZM1,-1L1,1L0,0Z"}},
{"transform": [{"filter": "datum.s == 'f'"}], "mark": {"type": "point", "filled": true, "size": 289, "opacity": 1, "strokeWidth": 0, "shape": "M1,-1L1,1L-1,0Z"}},
{"transform": [{"filter": "datum.s == 'e'"}], "mark": {"type": "point", "filled": true, "size": 289, "opacity": 1, "strokeWidth": 0, "shape": "M-1,-1L1,0L-1,1Z"}},
{"transform": [{"filter": "datum.s == 'd'"}], "mark": {"type": "point", "filled": true, "size": 289, "opacity": 1, "strokeWidth": 0, "shape": "M0,-1L1,1L-1,1Z"}},
{"transform": [{"filter": "datum.s == 'c'"}], "mark": {"type": "point", "filled": true, "size": 289, "opacity": 1, "strokeWidth": 0, "shape": "M-1,-1L1,-1L0,1Z"}},
{"transform": [{"filter": "datum.s == 'b'"}], "mark": {"type": "point", "filled": true, "size": 289, "opacity": 1, "strokeWidth": 0, "shape": "M0,-1L1,0L0,1L-1,0Z"}},
{"transform": [{"filter": "datum.s == 'a'"}], "mark": {"type": "point", "filled": true, "size": 289, "opacity": 1, "strokeWidth": 0, "shape": "M-1,-1L1,-1L1,1L-1,1Z"}}
]
},
{
"width": 755.5, "height": 320,
"data": {"name": "tbl"},
"resolve": {"scale": {"x": "independent"}},
"layer": [
{"transform": [{"filter": "datum.k == 'h'"}],
 "mark": {"type": "text", "align": "left", "baseline": "middle", "font": "Liberation Serif", "fontSize": 28, "color": "#000000", "dx": 4},
 "encoding": {
  "x": {"field": "c", "type": "nominal", "bandPosition": 0, "scale": {"type": "band", "domain": ["s1","s2","s3","s4","s5","A","a1","a2","a3","a4","a5","B","b1","b2","b3","b4","b5","b6","b7","C","c1","c2","c3","c4","c5","D","d1","d2","d3","d4","d5","E","e1","e2","e3","e4","e5","e6","F","f1","f2","f3","f4","f5","f6"], "paddingInner": 0, "paddingOuter": 0.675, "align": 1}, "axis": null},
  "y": {"field": "r", "type": "ordinal", "scale": {"type": "point", "padding": 0.5, "domain": [0,1,2,3,4,5,6,7]}, "axis": null},
  "text": {"field": "t"}}},
{"transform": [{"filter": "datum.k == 'l'"}],
 "mark": {"type": "text", "align": "left", "baseline": "middle", "font": "Liberation Serif", "fontSize": 28, "fontWeight": "bold", "color": "#000000", "dx": 3},
 "encoding": {
  "x": {"field": "c", "type": "nominal", "bandPosition": 0, "scale": {"type": "band", "domain": ["s1","s2","s3","s4","s5","A","a1","a2","a3","a4","a5","B","b1","b2","b3","b4","b5","b6","b7","C","c1","c2","c3","c4","c5","D","d1","d2","d3","d4","d5","E","e1","e2","e3","e4","e5","e6","F","f1","f2","f3","f4","f5","f6"], "paddingInner": 0, "paddingOuter": 0.675, "align": 1}, "axis": null},
  "y": {"field": "r", "type": "ordinal", "scale": {"type": "point", "padding": 0.5, "domain": [0,1,2,3,4,5,6,7]}, "axis": null},
  "text": {"field": "t"}}},
{"transform": [{"filter": "datum.k == 'n'"}],
 "mark": {"type": "text", "align": "right", "baseline": "middle", "font": "Liberation Serif", "fontSize": 28, "color": "#000000", "dx": -2.5},
 "encoding": {
  "x": {"field": "c", "type": "nominal", "bandPosition": 1, "scale": {"type": "band", "domain": ["s1","s2","s3","s4","s5","n0","n1","n2","n3","n4","n5","n6","n7","n8","n9","n10","n11","n12","B","n14","n15","n16","n17","n18","C","n20","n21","n22","n23","n24","D","n26","n27","n28","n29","n30","n31","E","n33","n34","n35","n36","n37","n38","F"], "paddingInner": 0, "paddingOuter": 0.675, "align": 1}, "axis": null},
  "y": {"field": "r", "type": "ordinal", "scale": {"type": "point", "padding": 0.5, "domain": [0,1,2,3,4,5,6,7]}, "axis": null},
  "text": {"field": "t"}}}
]
}
]
}
